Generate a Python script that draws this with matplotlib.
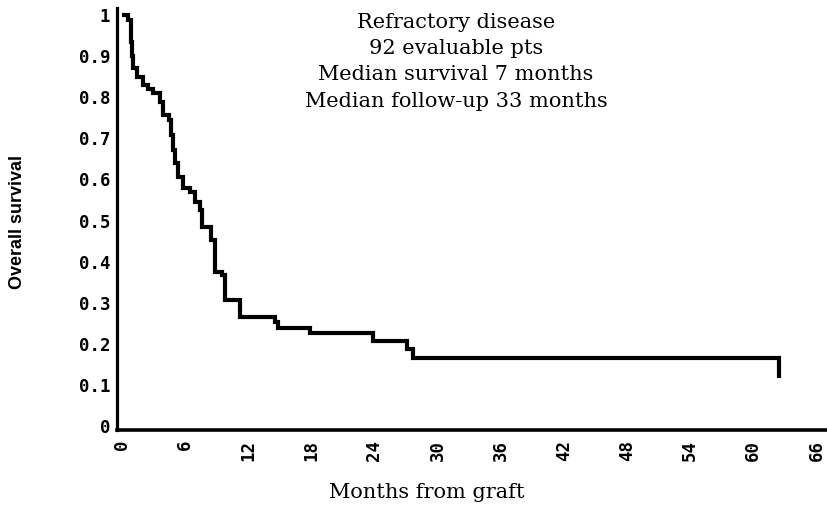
import matplotlib.pyplot as plt
import numpy as np

# Kaplan-Meier curve (months, survival fraction)
months = [0, 0.63, 0.85, 0.95, 1.04, 1.45, 2.05, 2.5, 3.0, 3.64,
          3.95, 4.52, 4.7, 4.9, 5.06, 5.38, 5.85, 6.49, 6.96, 7.44,
          7.6, 8.45, 8.86, 9.5, 9.81, 11.23, 14.56, 14.87, 17.9, 23.9,
          27.07, 27.7, 62.4]
survival = [1.0, 0.989, 0.935, 0.90, 0.87, 0.85, 0.83, 0.82, 0.81, 0.789,
            0.757, 0.745, 0.708, 0.672, 0.64, 0.607, 0.578, 0.57, 0.546, 0.526,
            0.485, 0.453, 0.375, 0.367, 0.307, 0.266, 0.254, 0.238, 0.226, 0.207,
            0.187, 0.166, 0.118]

x_ticks = list(range(0, 67, 6))
y_ticks = [0, 0.1, 0.2, 0.3, 0.4, 0.5, 0.6, 0.7, 0.8, 0.9, 1]
y_labels = ['0', '0.1', '0.2', '0.3', '0.4', '0.5', '0.6', '0.7', '0.8', '0.9', '1']

notes = ['Refractory disease', '92 evaluable pts',
         'Median survival 7 months', 'Median follow-up 33 months']

W, H = 828, 507
fig = plt.figure(figsize=(W / 100, H / 100), dpi=100)
ax = fig.add_axes([117 / W, 1 - 430 / H, 1 - 117 / W, (430 - 8) / H])

ax.step(months, survival, where='post', color='black', lw=3.0,
        solid_joinstyle='miter', solid_capstyle='butt')

ax.set_xlim(-0.45, 67.1)
ax.set_ylim(-0.0097, 1.017)

for side in ['top', 'right']:
    ax.spines[side].set_visible(False)
ax.spines['left'].set_linewidth(2.3)
ax.spines['bottom'].set_linewidth(2.6)

mono = dict(family='DejaVu Sans Mono', weight='bold', size=12.5)
ax.set_xticks(x_ticks)
ax.set_xticklabels([str(v) for v in x_ticks], rotation=90, fontdict=mono)
ax.set_yticks(y_ticks)
ax.set_yticklabels(y_labels, fontdict=mono)
ax.tick_params(axis='both', length=0)
ax.tick_params(axis='y', pad=5)
ax.tick_params(axis='x', pad=7)

fig.text(18 / W, 1 - 222 / H, 'Overall survival', rotation=90,
         ha='center', va='center', family='Liberation Sans',
         weight='bold', size=13)
fig.text(427 / W, 1 - 492 / H, 'Months from graft', ha='center',
         va='center', family='DejaVu Serif', size=15)

for i, line in enumerate(notes):
    fig.text(456 / W, 1 - (22 + i * 26.5) / H, line, ha='center',
             va='center', family='DejaVu Serif', size=15)

fig.savefig('out.png', dpi=100)
